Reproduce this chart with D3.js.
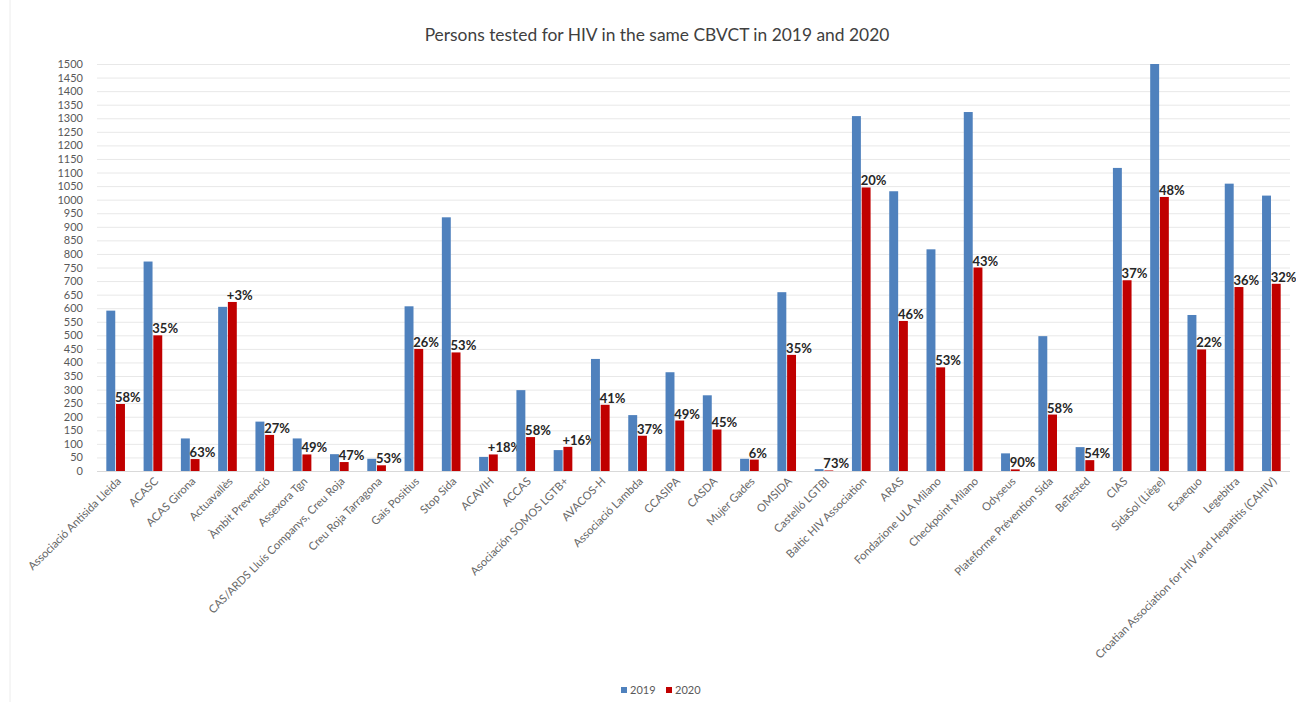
<!DOCTYPE html>
<html>
<head>
<meta charset="utf-8">
<script src="https://cdn.jsdelivr.net/npm/d3@7"></script>
<style>
  body { margin: 0; background: #fff; }
  text { font-family: Lato, "Liberation Sans", sans-serif; }
</style>
</head>
<body>
<div id="chart"></div>
<script>
// données
var centres = ["Associació Antisida Lleida", "ACASC", "ACAS Girona", "Actuavallès", "Àmbit Prevenció",
  "Assexora Tgn", "CAS/ARDS Lluís Companys, Creu Roja", "Creu Roja Tarragona", "Gais Positius", "Stop Sida",
  "ACAVIH", "ACCAS", "Asociación SOMOS LGTB+", "AVACOS-H", "Associació Lambda", "CCASIPA", "CASDA",
  "Mujer Gades", "OMSIDA", "Castelló LGTBI", "Baltic HIV Association", "ARAS", "Fondazione ULA Milano",
  "Checkpoint Milano", "Odyseus", "Plateforme Prévention Sida", "BeTested", "CIAS", "SidaSol (Liège)",
  "Exaequo", "Legebitra", "Croatian Association for HIV and Hepatitis (CAHIV)"];
var tests2019 = [591, 772, 120, 605, 182, 120, 62, 45, 607, 935, 52, 298, 77, 413, 206, 364, 279,
  45, 659, 7, 1308, 1031, 817, 1323, 65, 497, 88, 1117, 1940, 575, 1059, 1015];
var tests2020 = [247, 500, 44, 623, 133, 61, 33, 21, 450, 437, 61, 125, 89, 244, 130, 186, 153,
  42, 428, 2, 1045, 553, 382, 750, 6, 208, 40, 703, 1010, 448, 678, 690];
var etiquettes = ["58%", "35%", "63%", "+3%", "27%", "49%", "47%", "53%", "26%", "53%", "+18%", "58%",
  "+16%", "41%", "37%", "49%", "45%", "6%", "35%", "73%", "20%", "46%", "53%", "43%", "90%", "58%",
  "54%", "37%", "48%", "22%", "36%", "32%"];
var annees = ["2019", "2020"];
var graduations = d3.range(0, 1501, 50);

var largeur = 1296, hauteur = 702;
var couleurs = { "2019": "#4f81bd", "2020": "#c00000" };

var svg = d3.select("#chart").append("svg")
  .attr("width", largeur)
  .attr("height", hauteur);

// bordure pâle à gauche
svg.append("line")
  .attr("x1", 10).attr("x2", 10).attr("y1", 0).attr("y2", hauteur)
  .attr("stroke", "#ececec");

var x0 = d3.scaleBand().domain(centres).range([97, 1290]).paddingInner(0.5).paddingOuter(0.25);
var x1 = d3.scaleBand().domain(annees).range([0, x0.bandwidth()]).paddingInner(0.08);
var y = d3.scaleLinear().domain([0, 1500]).range([471, 64]).clamp(true);

// titre
svg.append("text")
  .attr("x", 657).attr("y", 41)
  .attr("text-anchor", "middle")
  .attr("font-size", "17.4px")
  .attr("fill", "#404040")
  .text("Persons tested for HIV in the same CBVCT in 2019 and 2020");

// grille + axe y
var axeY = svg.append("g")
  .attr("transform", "translate(97,0)")
  .call(d3.axisLeft(y).tickValues(graduations).tickFormat(d3.format("d"))
    .tickSize(-(1290 - 97)).tickPadding(14));
axeY.select(".domain").remove();
axeY.selectAll(".tick line").attr("stroke", function(d) { return d === 0 ? "#d9d9d9" : "#e8e8e8"; });
axeY.selectAll(".tick text")
  .attr("font-size", "11px")
  .attr("fill", "#595959")
  .style("font-family", "Lato, 'Liberation Sans', sans-serif");

// barres
var groupes = svg.selectAll(".centre")
  .data(centres)
  .enter().append("g")
  .attr("class", "centre")
  .attr("transform", function(d) { return "translate(" + x0(d) + ",0)"; });

groupes.selectAll("rect")
  .data(function(d, i) { return [{ a: "2019", v: tests2019[i] }, { a: "2020", v: tests2020[i] }]; })
  .enter().append("rect")
  .attr("x", function(d) { return x1(d.a); })
  .attr("width", x1.bandwidth())
  .attr("y", function(d) { return y(d.v); })
  .attr("height", function(d) { return y(0) - y(d.v); })
  .attr("fill", function(d) { return couleurs[d.a]; });

// pourcentages au-dessus des barres 2020
groupes.append("text")
  .attr("x", x1("2020") - 1)
  .attr("y", function(d, i) { return y(tests2020[i]) - 2; })
  .attr("font-size", "13px")
  .attr("font-weight", "bold")
  .attr("fill", "#262626")
  .text(function(d, i) { return etiquettes[i]; });

// noms des centres
svg.selectAll(".nom")
  .data(centres)
  .enter().append("text")
  .attr("class", "nom")
  .attr("text-anchor", "end")
  .attr("font-size", "11.2px")
  .attr("fill", "#666666")
  .attr("transform", function(d) {
    return "translate(" + (x0(d) + x0.bandwidth() / 2 + 6) + ",482) rotate(-45)";
  })
  .text(function(d) { return d; });

// légende
var legende = svg.append("g").attr("transform", "translate(621,694)");
annees.forEach(function(a, i) {
  legende.append("rect")
    .attr("x", i * 45).attr("y", -7)
    .attr("width", 6).attr("height", 6)
    .attr("fill", couleurs[a]);
  legende.append("text")
    .attr("x", i * 45 + 9).attr("y", 0)
    .attr("font-size", "11px")
    .attr("fill", "#595959")
    .text(a);
});
</script>
</body>
</html>
